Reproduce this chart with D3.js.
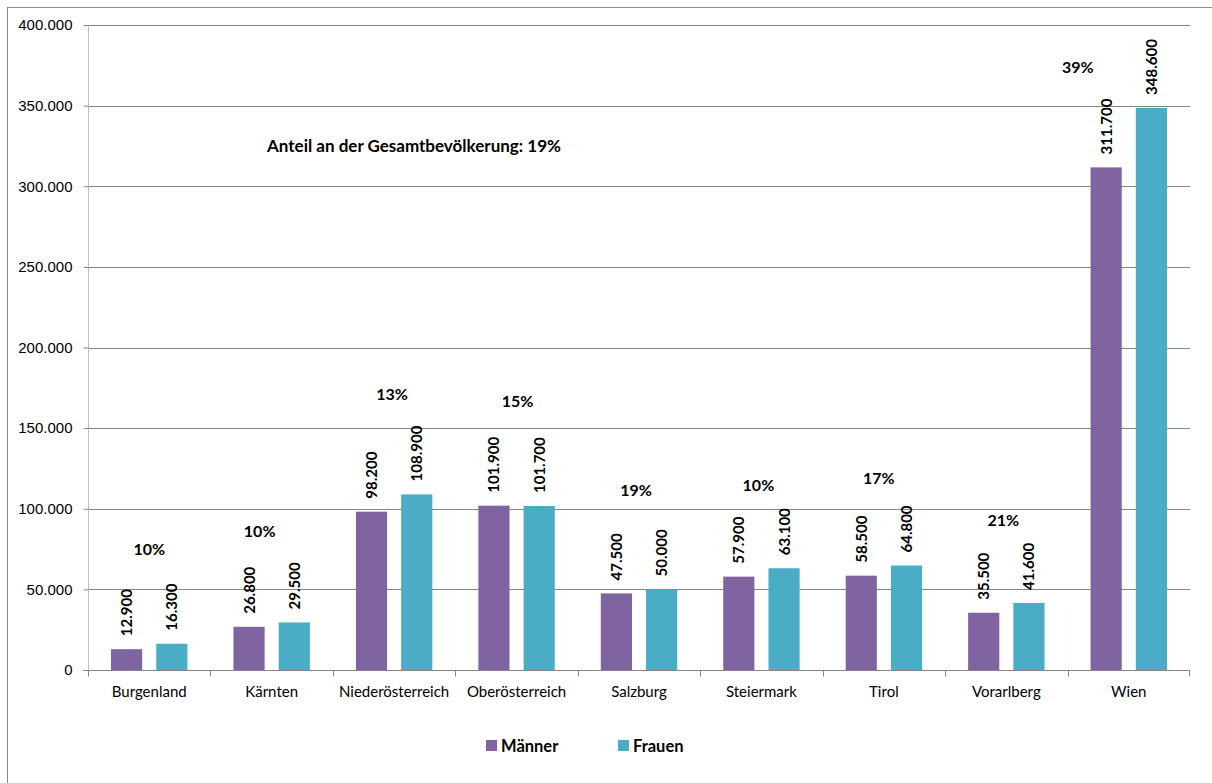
<!DOCTYPE html>
<html>
<head>
<meta charset="utf-8">
<script src="https://cdn.jsdelivr.net/npm/d3@7"></script>
<style>
  body { margin: 0; background: #fff; }
  svg { display: block; font-family: Lato, "Open Sans", sans-serif; }
</style>
</head>
<body>
<div id="chart"></div>
<script>
const regions = ['Burgenland', 'Kärnten', 'Niederösterreich', 'Oberösterreich', 'Salzburg',
  'Steiermark', 'Tirol', 'Vorarlberg', 'Wien'];
const maenner = [12900, 26800, 98200, 101900, 47500, 57900, 58500, 35500, 311700];
const frauen = [16300, 29500, 108900, 101700, 50000, 63100, 64800, 41600, 348600];
const anteil = ['10%', '10%', '13%', '15%', '19%', '10%', '17%', '21%', '39%'];
// where the share labels sit, in axis units (they were placed by hand)
const anteilAt = [75000, 86200, 171200, 166800, 111600, 114700, 119100, 93000, 374000];
const anteilShift = [0, -12, -2, 1, -3, -3, -5, -3, -51];
const yTicks = [0, 50000, 100000, 150000, 200000, 250000, 300000, 350000, 400000];
const seriesNames = ['Männer', 'Frauen'];
const colors = { 'Männer': '#8064A2', 'Frauen': '#4BACC6' };
const gesamt = 'Anteil an der Gesamtbevölkerung: 19%';

const width = 1212, height = 783;
const margin = { top: 25, right: 22, bottom: 113, left: 88 };

const svg = d3.select('#chart').append('svg')
  .attr('width', width)
  .attr('height', height);

// outer chart frame
svg.append('rect')
  .attr('x', 7.5).attr('y', 7.5)
  .attr('width', width).attr('height', height)
  .attr('fill', 'none')
  .attr('stroke', '#8c8c8c');

const x = d3.scaleBand()
  .domain(regions)
  .range([margin.left, width - margin.right]);

const bw = x.bandwidth();
const x1 = d3.scaleBand()
  .domain(seriesNames)
  .range([bw * 0.188, bw * 0.812])
  .paddingInner(0.311);

const y = d3.scaleLinear()
  .domain([0, 400000])
  .range([height - margin.bottom, margin.top]);

const fmt = v => v === 0 ? '0' : d3.format(',')(v).replace(/,/g, '.');

// gridlines
svg.append('g')
  .selectAll('line')
  .data(yTicks.slice(1))
  .join('line')
  .attr('x1', margin.left)
  .attr('x2', width - margin.right)
  .attr('y1', d => Math.round(y(d)) + 0.5)
  .attr('y2', d => Math.round(y(d)) + 0.5)
  .attr('stroke', '#868686');

// y axis
const yAxis = svg.append('g')
  .attr('transform', `translate(${margin.left + 0.5},0)`)
  .call(d3.axisLeft(y).tickValues(yTicks).tickFormat(fmt).tickSize(5).tickPadding(11));
yAxis.select('.domain').attr('stroke', '#bfbfbf').attr('d', `M0,${y(400000)}V${y(0)}`);
yAxis.selectAll('.tick line').attr('stroke', '#868686');
yAxis.selectAll('.tick text').attr('font-size', 15).attr('fill', '#000');

// bars
const groups = svg.append('g')
  .selectAll('g')
  .data(regions.map((r, i) => ({ region: r, values: [maenner[i], frauen[i]] })))
  .join('g')
  .attr('transform', d => `translate(${x(d.region)},0)`);

groups.selectAll('rect')
  .data(d => d.values.map((v, j) => ({ key: seriesNames[j], value: v })))
  .join('rect')
  .attr('x', d => x1(d.key))
  .attr('width', x1.bandwidth())
  .attr('y', d => y(d.value))
  .attr('height', d => y(0) - y(d.value))
  .attr('fill', d => colors[d.key]);

groups.selectAll('text.val')
  .data(d => d.values.map((v, j) => ({ key: seriesNames[j], value: v })))
  .join('text')
  .attr('class', 'val')
  .attr('transform', d => `translate(${x1(d.key) + x1.bandwidth() / 2 + 5.5},${y(d.value) - 13}) rotate(-90)`)
  .attr('font-size', 15)
  .attr('font-weight', 'bold')
  .text(d => fmt(d.value));

// x axis
const xAxis = svg.append('g')
  .attr('transform', `translate(0,${y(0) + 0.5})`);
xAxis.append('line')
  .attr('x1', margin.left - 5).attr('x2', width - margin.right)
  .attr('stroke', '#868686');
xAxis.selectAll('line.tk')
  .data(regions.concat([null]))
  .join('line')
  .attr('class', 'tk')
  .attr('x1', d => d ? Math.round(x(d)) + 0.5 : width - margin.right - 0.5)
  .attr('x2', d => d ? Math.round(x(d)) + 0.5 : width - margin.right - 0.5)
  .attr('y2', 6)
  .attr('stroke', '#868686');
xAxis.selectAll('text')
  .data(regions)
  .join('text')
  .attr('x', d => x(d) + bw / 2)
  .attr('y', 26)
  .attr('text-anchor', 'middle')
  .attr('font-size', 15)
  .text(d => d);

// share labels
svg.append('g')
  .selectAll('text')
  .data(regions)
  .join('text')
  .attr('x', (d, i) => x(d) + bw / 2 + anteilShift[i])
  .attr('y', (d, i) => y(anteilAt[i]) + 6)
  .attr('text-anchor', 'middle')
  .attr('font-size', 16)
  .attr('font-weight', 'bold')
  .text((d, i) => anteil[i]);

svg.append('text')
  .attr('x', 414)
  .attr('y', y(325000) + 6)
  .attr('text-anchor', 'middle')
  .attr('font-size', 17)
  .attr('font-weight', 'bold')
  .text(gesamt);

// legend
const legend = svg.append('g')
  .selectAll('g')
  .data(seriesNames)
  .join('g')
  .attr('transform', (d, i) => `translate(${486 + i * 132},740)`);
legend.append('rect')
  .attr('width', 11).attr('height', 11)
  .attr('fill', d => colors[d]);
legend.append('text')
  .attr('x', 15).attr('y', 11.5)
  .attr('font-size', 16.5)
  .attr('font-weight', 'bold')
  .text(d => d);
</script>
</body>
</html>
